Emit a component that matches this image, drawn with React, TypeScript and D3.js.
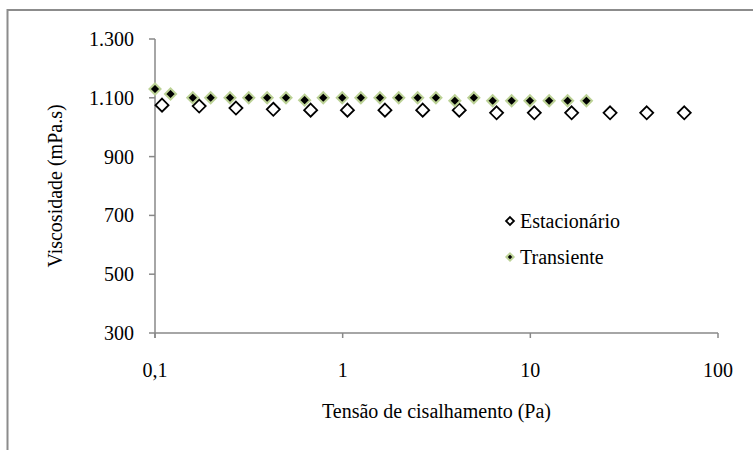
import React from "react";
import * as d3 from "d3";

// Shear stress (Pa) and viscosity (mPa.s), steady-state sweep
const steadyStress = [0.109, 0.172, 0.27, 0.427, 0.675, 1.06, 1.68, 2.67, 4.18, 6.61, 10.5, 16.6, 26.6, 41.7, 66.1];
const steadyViscosity = [1075, 1072, 1065, 1061, 1058, 1058, 1058, 1058, 1058, 1049, 1049, 1049, 1049, 1049, 1049];

// Transient sweep
const transientStress = [0.1, 0.121, 0.159, 0.198, 0.251, 0.316, 0.396, 0.499, 0.627, 0.788, 0.995, 1.25, 1.58, 1.99, 2.51, 3.14, 3.96, 5.0, 6.3, 7.95, 9.95, 12.6, 15.8, 19.9];
const transientViscosity = [1130, 1113, 1100, 1100, 1100, 1100, 1100, 1100, 1092, 1100, 1100, 1100, 1100, 1100, 1100, 1100, 1090, 1100, 1090, 1090, 1090, 1090, 1090, 1090];

const yTicks = [300, 500, 700, 900, 1100, 1300];
const xTicks = [0.1, 1, 10, 100];
const seriesNames = ["Estacionário", "Transiente"];

const W = 753;
const H = 450;

const ptBR = d3.formatLocale({ decimal: ",", thousands: ".", grouping: [3], currency: ["R$", ""] });
const fmtY = ptBR.format(",d");
const fmtX = (v: number) => ptBR.format(",")(v);

const textStyle: React.CSSProperties = {
  fontFamily: "Liberation Serif, Times New Roman, Times, serif",
  fontSize: "20px",
};
const AXIS = "#888888";
const GREEN = "#bcd296";

export default function App() {
  const x = d3.scaleLog().domain([0.1, 100]).range([155, 718]);
  const y = d3.scaleLinear().domain([300, 1300]).range([333, 39]);

  const openDiamond = d3.symbol().type(d3.symbolDiamond2).size(108)()!;
  const fillDiamond = d3.symbol().type(d3.symbolDiamond2).size(78)()!;
  const legendOpen = d3.symbol().type(d3.symbolDiamond2).size(40)()!;
  const legendFill = d3.symbol().type(d3.symbolDiamond2).size(34)()!;

  const [x0, x1] = x.range();
  const [yb, yt] = y.range();

  return (
    <svg
      width={W}
      height={H}
      style={{ position: "absolute", left: 0, top: 0, background: "#fff" }}
    >
      <rect x={0} y={0} width={W} height={H} fill="#fff" />
      {/* chart frame */}
      <path d={`M7.5,${H} V10 H${W}`} fill="none" stroke="#8c8c8c" strokeWidth={2} />

      {/* y axis */}
      <line x1={x0} x2={x0} y1={yt} y2={yb + 5} stroke={AXIS} strokeWidth={1.5} />
      {yTicks.map((t) => (
        <g key={t}>
          <line x1={x0 - 6} x2={x0} y1={y(t)} y2={y(t)} stroke={AXIS} strokeWidth={1.5} />
          <text x={134} y={y(t)} dy="0.35em" textAnchor="end" style={textStyle} fill="#000">
            {fmtY(t)}
          </text>
        </g>
      ))}

      {/* x axis */}
      <line x1={x0} x2={x1} y1={yb} y2={yb} stroke={AXIS} strokeWidth={1.5} />
      {xTicks.map((t) => (
        <g key={t}>
          <line x1={x(t)} x2={x(t)} y1={yb} y2={yb + 5} stroke={AXIS} strokeWidth={1.5} />
          <text x={x(t)} y={377} textAnchor="middle" style={textStyle} fill="#000">
            {fmtX(t)}
          </text>
        </g>
      ))}

      <text x={(x0 + x1) / 2} y={418} textAnchor="middle" style={textStyle} fill="#000">
        Tensão de cisalhamento (Pa)
      </text>
      <text
        transform={`translate(62,${(yt + yb) / 2}) rotate(-90)`}
        textAnchor="middle"
        style={textStyle}
        fill="#000"
      >
        Viscosidade (mPa.s)
      </text>

      {/* steady-state series */}
      {steadyStress.map((s, i) => (
        <path
          key={`s${i}`}
          d={openDiamond}
          transform={`translate(${x(s)},${y(steadyViscosity[i])})`}
          fill="#fff"
          stroke="#000"
          strokeWidth={1.8}
        />
      ))}

      {/* transient series */}
      {transientStress.map((s, i) => (
        <path
          key={`t${i}`}
          d={fillDiamond}
          transform={`translate(${x(s)},${y(transientViscosity[i])})`}
          fill="#000"
          stroke={GREEN}
          strokeWidth={2}
        />
      ))}

      {/* legend */}
      <g>
        <path d={legendOpen} transform="translate(510,221)" fill="#fff" stroke="#000" strokeWidth={1.8} />
        <text x={520} y={221} dy="0.35em" style={textStyle} fill="#000">
          {seriesNames[0]}
        </text>
        <path d={legendFill} transform="translate(510,257)" fill="#000" stroke={GREEN} strokeWidth={2} />
        <text x={520} y={257} dy="0.35em" style={textStyle} fill="#000">
          {seriesNames[1]}
        </text>
      </g>
    </svg>
  );
}
